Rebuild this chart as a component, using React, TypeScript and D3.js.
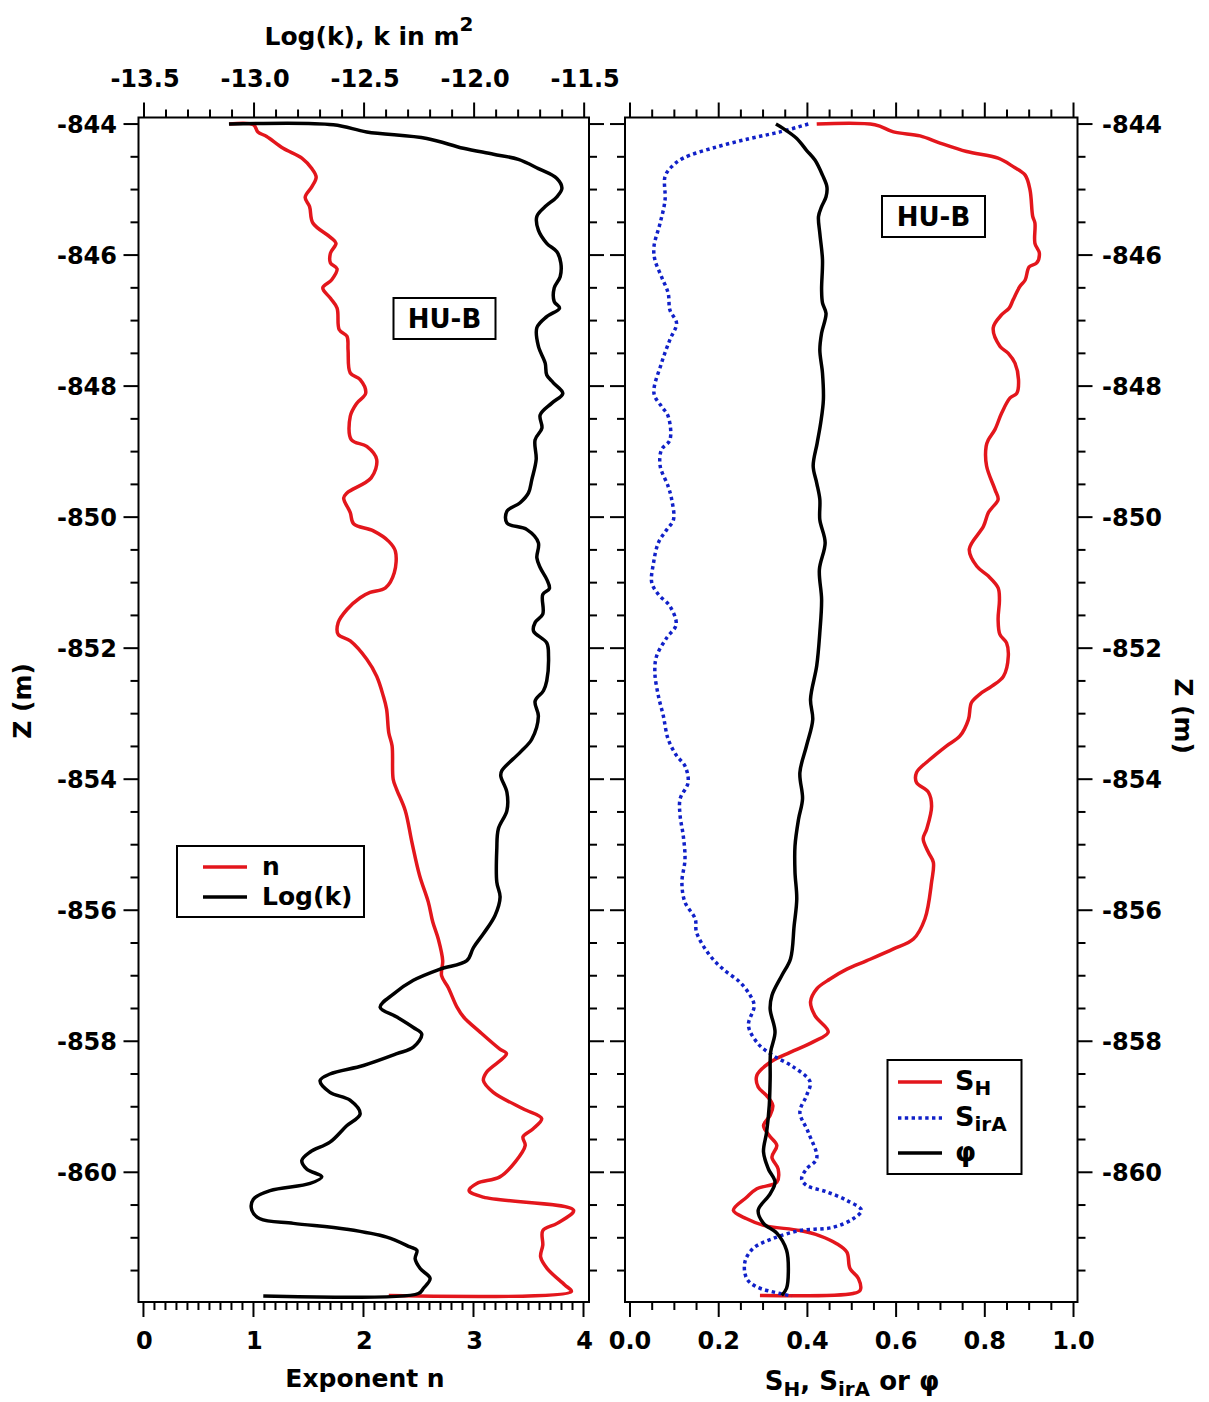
import React from "react";
import * as d3 from "d3";

// Depth profiles through the HU-B unit. Each entry is [Z (m), value].
const nProfile: [number, number][] = [
  [-844.0, 0.78], [-844.01, 1.0], [-844.12, 1.04], [-844.19, 1.12], [-844.37, 1.27], [-844.52, 1.44],
  [-844.68, 1.53], [-844.81, 1.57], [-844.96, 1.53], [-845.12, 1.47], [-845.26, 1.51], [-845.51, 1.54],
  [-845.73, 1.7], [-845.82, 1.75], [-845.97, 1.7], [-846.12, 1.7], [-846.21, 1.76], [-846.38, 1.71],
  [-846.5, 1.63], [-846.66, 1.7], [-846.81, 1.76], [-847.14, 1.78], [-847.24, 1.85], [-847.45, 1.86],
  [-847.8, 1.88], [-847.9, 1.97], [-848.11, 2.02], [-848.26, 1.94], [-848.46, 1.88], [-848.82, 1.89],
  [-848.92, 2.03], [-849.12, 2.12], [-849.4, 2.07], [-849.63, 1.85], [-849.71, 1.82], [-849.93, 1.88],
  [-850.1, 1.91], [-850.21, 2.09], [-850.37, 2.23], [-850.52, 2.29], [-850.85, 2.28], [-851.08, 2.2],
  [-851.15, 2.06], [-851.23, 1.97], [-851.41, 1.85], [-851.61, 1.77], [-851.79, 1.77], [-851.89, 1.88],
  [-852.17, 2.03], [-852.43, 2.12], [-852.73, 2.18], [-852.93, 2.21], [-853.29, 2.23], [-853.49, 2.26],
  [-854.0, 2.27], [-854.15, 2.3], [-854.48, 2.38], [-854.96, 2.44], [-855.47, 2.51], [-855.88, 2.59],
  [-856.18, 2.63], [-856.44, 2.68], [-856.77, 2.72], [-857.0, 2.71], [-857.18, 2.77], [-857.48, 2.85],
  [-857.63, 2.91], [-857.86, 3.06], [-858.12, 3.24], [-858.19, 3.3], [-858.47, 3.12], [-858.6, 3.09],
  [-858.78, 3.18], [-859.03, 3.45], [-859.18, 3.62], [-859.34, 3.54], [-859.46, 3.45], [-859.59, 3.47],
  [-859.84, 3.38], [-860.07, 3.24], [-860.17, 3.03], [-860.28, 2.96], [-860.38, 3.09], [-860.58, 3.91],
  [-860.78, 3.76], [-860.89, 3.63], [-861.11, 3.63], [-861.29, 3.61], [-861.47, 3.67], [-861.72, 3.83],
  [-861.82, 3.89], [-861.88, 2.23],
];

const logkProfile: [number, number][] = [
  [-844.0, -13.114], [-844.01, -12.64], [-844.12, -12.488], [-844.22, -12.215], [-844.37, -12.049],
  [-844.46, -11.912], [-844.54, -11.799], [-844.68, -11.708], [-844.83, -11.624], [-844.98, -11.601],
  [-845.11, -11.624], [-845.26, -11.677], [-845.41, -11.715], [-845.62, -11.708], [-845.82, -11.67],
  [-845.95, -11.624], [-846.12, -11.606], [-846.33, -11.609], [-846.5, -11.636], [-846.71, -11.636],
  [-846.81, -11.612], [-846.94, -11.67], [-847.11, -11.715], [-847.39, -11.708], [-847.65, -11.677],
  [-847.83, -11.67], [-847.95, -11.64], [-848.11, -11.597], [-848.26, -11.647], [-848.44, -11.7],
  [-848.64, -11.692], [-848.82, -11.723], [-849.12, -11.718], [-849.43, -11.738], [-849.63, -11.753],
  [-849.78, -11.791], [-849.91, -11.851], [-850.09, -11.851], [-850.19, -11.76], [-850.39, -11.708],
  [-850.62, -11.715], [-850.77, -11.7], [-850.95, -11.67], [-851.09, -11.658], [-851.18, -11.688],
  [-851.48, -11.688], [-851.61, -11.723], [-851.74, -11.73], [-851.92, -11.67], [-852.12, -11.662],
  [-852.5, -11.67], [-852.65, -11.685], [-852.81, -11.723], [-853.04, -11.708], [-853.39, -11.738],
  [-853.59, -11.791], [-853.87, -11.874], [-853.95, -11.879], [-854.2, -11.851], [-854.48, -11.851],
  [-854.76, -11.89], [-855.07, -11.897], [-855.57, -11.897], [-855.8, -11.882], [-856.08, -11.905],
  [-856.36, -11.958], [-856.57, -12.003], [-856.77, -12.033], [-856.9, -12.155], [-857.07, -12.276],
  [-857.28, -12.367], [-857.48, -12.427], [-857.63, -12.351], [-857.79, -12.276], [-857.89, -12.238],
  [-858.09, -12.276], [-858.19, -12.351], [-858.37, -12.503], [-858.5, -12.655], [-858.6, -12.7],
  [-858.78, -12.655], [-858.9, -12.564], [-859.11, -12.518], [-859.29, -12.579], [-859.54, -12.655],
  [-859.69, -12.745], [-859.82, -12.783], [-859.95, -12.761], [-860.07, -12.692], [-860.17, -12.745],
  [-860.28, -12.927], [-860.41, -13.003], [-860.58, -13.01], [-860.71, -12.973], [-860.78, -12.821],
  [-860.87, -12.579], [-860.99, -12.397], [-861.14, -12.291], [-861.19, -12.26], [-861.32, -12.268],
  [-861.47, -12.245], [-861.62, -12.2], [-861.77, -12.23], [-861.85, -12.253], [-861.89, -12.958],
];

const shProfile: [number, number][] = [
  [-844.0, 0.421], [-844.01, 0.552], [-844.12, 0.594], [-844.18, 0.654], [-844.29, 0.699], [-844.42, 0.759],
  [-844.52, 0.83], [-844.65, 0.864], [-844.78, 0.891], [-845.01, 0.902], [-845.41, 0.908], [-845.51, 0.913],
  [-845.82, 0.913], [-845.97, 0.923], [-846.12, 0.917], [-846.18, 0.9], [-846.38, 0.891], [-846.48, 0.879],
  [-846.68, 0.864], [-846.81, 0.855], [-846.91, 0.838], [-847.11, 0.819], [-847.39, 0.834], [-847.5, 0.853],
  [-847.65, 0.868], [-847.9, 0.876], [-848.11, 0.872], [-848.18, 0.857], [-848.41, 0.838], [-848.66, 0.823],
  [-848.82, 0.808], [-848.92, 0.803], [-849.22, 0.804], [-849.58, 0.823], [-849.73, 0.83], [-849.86, 0.816],
  [-849.93, 0.808], [-850.14, 0.797], [-850.49, 0.765], [-850.75, 0.782], [-850.9, 0.808], [-851.08, 0.83],
  [-851.26, 0.833], [-851.56, 0.83], [-851.79, 0.834], [-851.92, 0.849], [-852.12, 0.853], [-852.43, 0.842],
  [-852.58, 0.816], [-852.7, 0.789], [-852.83, 0.77], [-853.09, 0.763], [-853.34, 0.744], [-853.49, 0.714],
  [-853.7, 0.676], [-853.9, 0.646], [-854.05, 0.646], [-854.2, 0.673], [-854.41, 0.68], [-854.76, 0.669],
  [-854.91, 0.661], [-855.12, 0.673], [-855.27, 0.684], [-855.57, 0.68], [-856.13, 0.665], [-856.44, 0.639],
  [-856.59, 0.594], [-856.77, 0.534], [-856.9, 0.489], [-857.05, 0.451], [-857.2, 0.421], [-857.4, 0.407],
  [-857.61, 0.417], [-857.86, 0.447], [-858.01, 0.413], [-858.17, 0.361], [-858.32, 0.316], [-858.52, 0.286],
  [-858.7, 0.289], [-858.83, 0.308], [-858.98, 0.322], [-859.13, 0.316], [-859.29, 0.301], [-859.44, 0.314],
  [-859.59, 0.331], [-859.77, 0.32], [-859.95, 0.334], [-860.15, 0.331], [-860.25, 0.286], [-860.38, 0.263],
  [-860.58, 0.233], [-860.71, 0.263], [-860.81, 0.301], [-860.89, 0.383], [-860.97, 0.428], [-861.09, 0.466],
  [-861.22, 0.489], [-861.47, 0.496], [-861.62, 0.515], [-861.8, 0.519], [-861.85, 0.503], [-861.88, 0.293],
];

const sirAProfile: [number, number][] = [
  [-844.0, 0.402], [-844.12, 0.338], [-844.22, 0.271], [-844.35, 0.195], [-844.52, 0.12], [-844.65, 0.094],
  [-844.8, 0.079], [-845.16, 0.079], [-845.51, 0.068], [-845.87, 0.054], [-846.07, 0.056], [-846.33, 0.071],
  [-846.58, 0.086], [-846.84, 0.09], [-847.04, 0.105], [-847.29, 0.09], [-847.65, 0.071], [-848.11, 0.054],
  [-848.31, 0.071], [-848.46, 0.086], [-848.82, 0.09], [-848.97, 0.071], [-849.22, 0.068], [-849.53, 0.086],
  [-849.73, 0.094], [-850.04, 0.098], [-850.19, 0.083], [-850.39, 0.064], [-850.7, 0.053], [-851.0, 0.049],
  [-851.18, 0.064], [-851.36, 0.09], [-851.64, 0.104], [-851.84, 0.083], [-852.12, 0.06], [-852.37, 0.056],
  [-852.73, 0.064], [-853.03, 0.075], [-853.39, 0.086], [-853.64, 0.105], [-853.8, 0.124], [-854.05, 0.131],
  [-854.3, 0.113], [-854.56, 0.113], [-854.86, 0.12], [-855.22, 0.124], [-855.58, 0.117], [-855.88, 0.124],
  [-856.13, 0.147], [-856.34, 0.15], [-856.69, 0.18], [-856.9, 0.21], [-857.1, 0.248], [-857.3, 0.271],
  [-857.46, 0.28], [-857.76, 0.267], [-858.04, 0.289], [-858.22, 0.323], [-858.39, 0.368], [-858.62, 0.406],
  [-858.83, 0.398], [-859.08, 0.383], [-859.39, 0.402], [-859.79, 0.421], [-859.95, 0.398], [-860.1, 0.387],
  [-860.2, 0.398], [-860.3, 0.444], [-860.43, 0.489], [-860.58, 0.522], [-860.71, 0.503], [-860.84, 0.458],
  [-860.89, 0.383], [-861.01, 0.323], [-861.16, 0.278], [-861.37, 0.259], [-861.62, 0.263], [-861.75, 0.286],
  [-861.85, 0.338], [-861.89, 0.365],
];

const phiProfile: [number, number][] = [
  [-844.0, 0.329], [-844.07, 0.346], [-844.22, 0.376], [-844.4, 0.398], [-844.55, 0.417], [-844.78, 0.434],
  [-844.96, 0.444], [-845.11, 0.442], [-845.26, 0.432], [-845.41, 0.425], [-845.67, 0.428], [-846.07, 0.434],
  [-846.53, 0.432], [-846.73, 0.434], [-846.89, 0.442], [-847.19, 0.432], [-847.45, 0.428], [-847.8, 0.434],
  [-848.21, 0.436], [-848.56, 0.43], [-848.87, 0.422], [-849.22, 0.413], [-849.48, 0.421], [-849.73, 0.428],
  [-850.04, 0.428], [-850.39, 0.44], [-850.8, 0.427], [-851.26, 0.432], [-851.76, 0.428], [-852.27, 0.421],
  [-852.78, 0.407], [-853.09, 0.412], [-853.49, 0.398], [-853.9, 0.383], [-854.3, 0.389], [-854.61, 0.38],
  [-855.02, 0.372], [-855.42, 0.372], [-855.83, 0.376], [-856.24, 0.37], [-856.74, 0.362], [-857.0, 0.342],
  [-857.3, 0.32], [-857.51, 0.316], [-857.86, 0.327], [-858.17, 0.317], [-858.57, 0.316], [-858.98, 0.314],
  [-859.39, 0.308], [-859.69, 0.301], [-859.95, 0.312], [-860.15, 0.327], [-860.33, 0.316], [-860.58, 0.289],
  [-860.78, 0.301], [-860.93, 0.331], [-861.19, 0.353], [-861.52, 0.357], [-861.77, 0.353], [-861.88, 0.342],
];

// Axis tick values
const depthTicks = d3.range(-844, -862, -0.5);
const depthLabels = [-844, -846, -848, -850, -852, -854, -856, -858, -860];
const nTicks = d3.range(0, 4.0001, 0.1);
const nLabels = [0, 1, 2, 3, 4];
const logkTicks = d3.range(-13.5, -11.4999, 0.1);
const logkLabels = [-13.5, -13.0, -12.5, -12.0, -11.5];
const satTicks = d3.range(0, 1.0001, 0.05);
const satLabels = [0, 0.2, 0.4, 0.6, 0.8, 1.0];

const FONT = "'DejaVu Sans', 'Liberation Sans', sans-serif";
const RED = "#e3161c";
const BLUE = "#1020c8";
const INK = "#000";
const LW = 3.5;
const MAJOR = 15;
const MINOR = 8;

const TOP = 117.5;
const BOTTOM = 1302;
const L_LEFT = 138.5;
const L_RIGHT = 589;
const R_LEFT = 625;
const R_RIGHT = 1077.5;

const near = (v: number, step: number) => Math.abs(v / step - Math.round(v / step)) < 1e-6;

export default function App() {
  const y = d3.scaleLinear().domain([-843.9, -861.98]).range([TOP, BOTTOM]);
  const xN = d3.scaleLinear().domain([-0.045, 4.05]).range([L_LEFT, L_RIGHT]);
  const xK = d3.scaleLinear().domain([-13.525, -11.478]).range([L_LEFT, L_RIGHT]);
  const xS = d3.scaleLinear().domain([-0.0113, 1.009]).range([R_LEFT, R_RIGHT]);

  const pathOf = (x: d3.ScaleLinear<number, number>) =>
    d3
      .line<[number, number]>()
      .x((d) => x(d[1]))
      .y((d) => y(d[0]))
      .curve(d3.curveCatmullRom.alpha(0.5));

  const tickStyle = { stroke: INK, strokeWidth: 2 };

  const vTicks = (xEdge: number, dir: number, key: string) =>
    depthTicks.map((v) => {
      const len = near(v, 2) ? MAJOR : MINOR;
      return (
        <line key={`${key}${v}`} x1={xEdge} x2={xEdge + dir * len} y1={y(v)} y2={y(v)} {...tickStyle} />
      );
    });

  const hTicks = (
    vals: number[],
    sc: d3.ScaleLinear<number, number>,
    majorStep: number,
    yEdge: number,
    dir: number,
    key: string
  ) =>
    vals.map((v) => {
      const len = near(v, majorStep) ? MAJOR : MINOR;
      return (
        <line key={`${key}${v}`} x1={sc(v)} x2={sc(v)} y1={yEdge} y2={yEdge + dir * len} {...tickStyle} />
      );
    });

  const tickText = { fontFamily: FONT, fontWeight: 700, fontSize: 24, fill: INK };
  const titleText = { fontFamily: FONT, fontWeight: 700, fontSize: 25, fill: INK };

  return (
    <svg
      width={1209}
      height={1402}
      style={{ position: "absolute", left: 0, top: 0, background: "#fff" }}
    >
      <rect x={0} y={0} width={1209} height={1402} fill="#fff" />

      {/* ---------- left panel: exponent n and log permeability ---------- */}
      <path d={pathOf(xN)(nProfile) || ""} fill="none" stroke={RED} strokeWidth={LW} strokeLinejoin="round" />
      <path d={pathOf(xK)(logkProfile) || ""} fill="none" stroke={INK} strokeWidth={LW} strokeLinejoin="round" />

      <rect x={L_LEFT} y={TOP} width={L_RIGHT - L_LEFT} height={BOTTOM - TOP} fill="none" stroke={INK} strokeWidth={2} />
      {vTicks(L_LEFT, -1, "ll")}
      {vTicks(L_RIGHT, 1, "lr")}
      {hTicks(nTicks, xN, 1, BOTTOM, 1, "lb")}
      {hTicks(logkTicks, xK, 0.5, TOP, -1, "lt")}

      {depthLabels.map((v) => (
        <text key={`dl${v}`} x={117} y={y(v) + 8.8} textAnchor="end" {...tickText}>
          {String(v)}
        </text>
      ))}
      {nLabels.map((v) => (
        <text key={`nl${v}`} x={xN(v) + 1} y={1349} textAnchor="middle" {...tickText}>
          {String(v)}
        </text>
      ))}
      {logkLabels.map((v) => (
        <text key={`kl${v}`} x={xK(v) + 1} y={87} textAnchor="middle" {...tickText}>
          {v.toFixed(1)}
        </text>
      ))}

      <text x={369} y={45} textAnchor="middle" {...titleText}>
        Log(k), k in m
        <tspan fontSize={20} dy={-14}>
          2
        </tspan>
      </text>
      <text x={365} y={1387} textAnchor="middle" {...titleText}>
        Exponent n
      </text>
      <text transform="translate(31,701) rotate(-90)" textAnchor="middle" {...titleText}>
        Z (m)
      </text>

      <rect x={393.5} y={298} width={102} height={41} fill="#fff" stroke={INK} strokeWidth={2} />
      <text x={444.5} y={328} textAnchor="middle" {...titleText} fontSize={26}>
        HU-B
      </text>

      <rect x={177} y={846} width={187} height={71} fill="#fff" stroke={INK} strokeWidth={2} />
      <line x1={203} x2={247} y1={867} y2={867} stroke={RED} strokeWidth={LW} />
      <line x1={203} x2={247} y1={897} y2={897} stroke={INK} strokeWidth={LW} />
      <text x={262} y={875} {...titleText}>
        n
      </text>
      <text x={262} y={905} {...titleText}>
        Log(k)
      </text>

      {/* ---------- right panel: saturations and porosity ---------- */}
      <path d={pathOf(xS)(shProfile) || ""} fill="none" stroke={RED} strokeWidth={LW} strokeLinejoin="round" />
      <path
        d={pathOf(xS)(sirAProfile) || ""}
        fill="none"
        stroke={BLUE}
        strokeWidth={LW}
        strokeDasharray="3.4 3.4"
      />
      <path d={pathOf(xS)(phiProfile) || ""} fill="none" stroke={INK} strokeWidth={LW} strokeLinejoin="round" />

      <rect x={R_LEFT} y={TOP} width={R_RIGHT - R_LEFT} height={BOTTOM - TOP} fill="none" stroke={INK} strokeWidth={2} />
      {vTicks(R_LEFT, -1, "rl")}
      {vTicks(R_RIGHT, 1, "rr")}
      {hTicks(satTicks, xS, 0.2, BOTTOM, 1, "rb")}
      {hTicks(satTicks, xS, 0.2, TOP, -1, "rt")}

      {depthLabels.map((v) => (
        <text key={`rdl${v}`} x={1102} y={y(v) + 8.8} textAnchor="start" {...tickText}>
          {String(v)}
        </text>
      ))}
      {satLabels.map((v) => (
        <text key={`sl${v}`} x={xS(v)} y={1349} textAnchor="middle" {...tickText}>
          {v.toFixed(1)}
        </text>
      ))}

      <text x={852} y={1390} textAnchor="middle" {...titleText} fontSize={26}>
        S
        <tspan fontSize={20} dy={6}>
          H
        </tspan>
        <tspan dy={-6}>,  S</tspan>
        <tspan fontSize={20} dy={6}>
          irA
        </tspan>
        <tspan dy={-6}>  or φ</tspan>
      </text>
      <text transform="translate(1175,716) rotate(90)" textAnchor="middle" {...titleText}>
        Z (m)
      </text>

      <rect x={882} y={196} width={103} height={41} fill="#fff" stroke={INK} strokeWidth={2} />
      <text x={933.5} y={226} textAnchor="middle" {...titleText} fontSize={26}>
        HU-B
      </text>

      <rect x={887.5} y={1060} width={134} height={114} fill="#fff" stroke={INK} strokeWidth={2} />
      <line x1={898} x2={942} y1={1082} y2={1082} stroke={RED} strokeWidth={LW} />
      <line x1={898} x2={942} y1={1118} y2={1118} stroke={BLUE} strokeWidth={LW} strokeDasharray="3.4 3.4" />
      <line x1={898} x2={942} y1={1153} y2={1153} stroke={INK} strokeWidth={LW} />
      <text x={955} y={1090} {...titleText} fontSize={27}>
        S
        <tspan fontSize={20} dy={5}>
          H
        </tspan>
      </text>
      <text x={955} y={1126} {...titleText} fontSize={27}>
        S
        <tspan fontSize={20} dy={5}>
          irA
        </tspan>
      </text>
      <text x={955} y={1161} {...titleText} fontSize={27}>
        φ
      </text>
    </svg>
  );
}
